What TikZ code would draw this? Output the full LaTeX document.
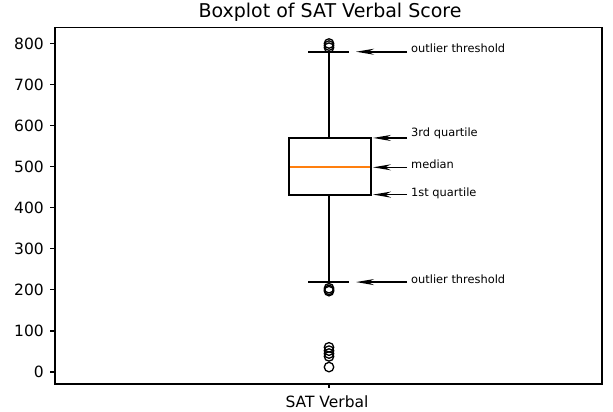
\documentclass[tikz,border=0pt]{standalone}
\usepackage{fontspec}
\setmainfont{DejaVu Sans}
\usetikzlibrary{positioning,arrows.meta}
\definecolor{medorange}{RGB}{255,127,14}

\begin{document}
\begin{tikzpicture}[x=1pt,y=0.4106pt,
    frame/.style={line width=1.4pt},
    whisk/.style={line width=1.8pt},
    outl/.style={circle,draw,line width=1.3pt,inner sep=0pt,minimum size=9.5pt},
    ticklab/.style={inner sep=0pt,font=\fontsize{15.5}{17}\selectfont},
    note/.style={anchor=west,inner xsep=4pt,inner ysep=0pt,font=\fontsize{11.4}{13}\selectfont},
    arr/.style={-{Stealth[length=18pt,width=6pt]},line width=1.6pt}]
  \useasboundingbox (0,-95) rectangle (613,906);
  % axes
  \draw[frame] (55,-29.2) rectangle (602,839);
  \foreach \v in {0,100,...,800} {
    \draw[line width=1.2pt] (50,\v) -- (55,\v);
    \node[ticklab,anchor=east] (y\v) at (44,\v) {\v};
  }
  \draw[line width=1.2pt] (329,-29.2) -- (329,-39);
  \node[ticklab] (xlab) at (327,-73) {SAT Verbal};
  \node (title) at (330,877) {\fontsize{19}{22}\selectfont Boxplot of SAT Verbal Score};
  % box and whiskers
  \draw[whisk] (289,432) rectangle (371,570);
  \draw[whisk,medorange] (290,498.5) -- (370,498.5);
  \draw[whisk] (329,570) -- (329,780) (308,780) -- (349,780);
  \draw[whisk] (329,432) -- (329,219) (308,219) -- (349,219);
  % outliers
  \foreach \v [count=\i] in {800,795,790,204,200,197,60,52,45,38,12}
    \node[outl] (o\i) at (329,\v) {};
  % annotations
  \node[note] (lhi)  at (407,789) {outlier threshold};
  \node[note] (l3)   at (407,580) {3rd quartile};
  \node[note] (lmed) at (407,506) {median};
  \node[note] (l1)   at (407,436) {1st quartile};
  \node[note] (llo)  at (407,226) {outlier threshold};
  \coordinate (thi)  at (356,780);
  \coordinate (t3)   at (373,570);
  \coordinate (tmed) at (373,498.5);
  \coordinate (t1)   at (373,432);
  \coordinate (tlo)  at (356,219);
  \path[arr]
    (lhi.west |- thi) edge (thi)
    (l3.west |- t3) edge (t3)
    (lmed.west |- tmed) edge (tmed)
    (l1.west |- t1) edge (t1)
    (llo.west |- tlo) edge (tlo);
\end{tikzpicture}
\end{document}
